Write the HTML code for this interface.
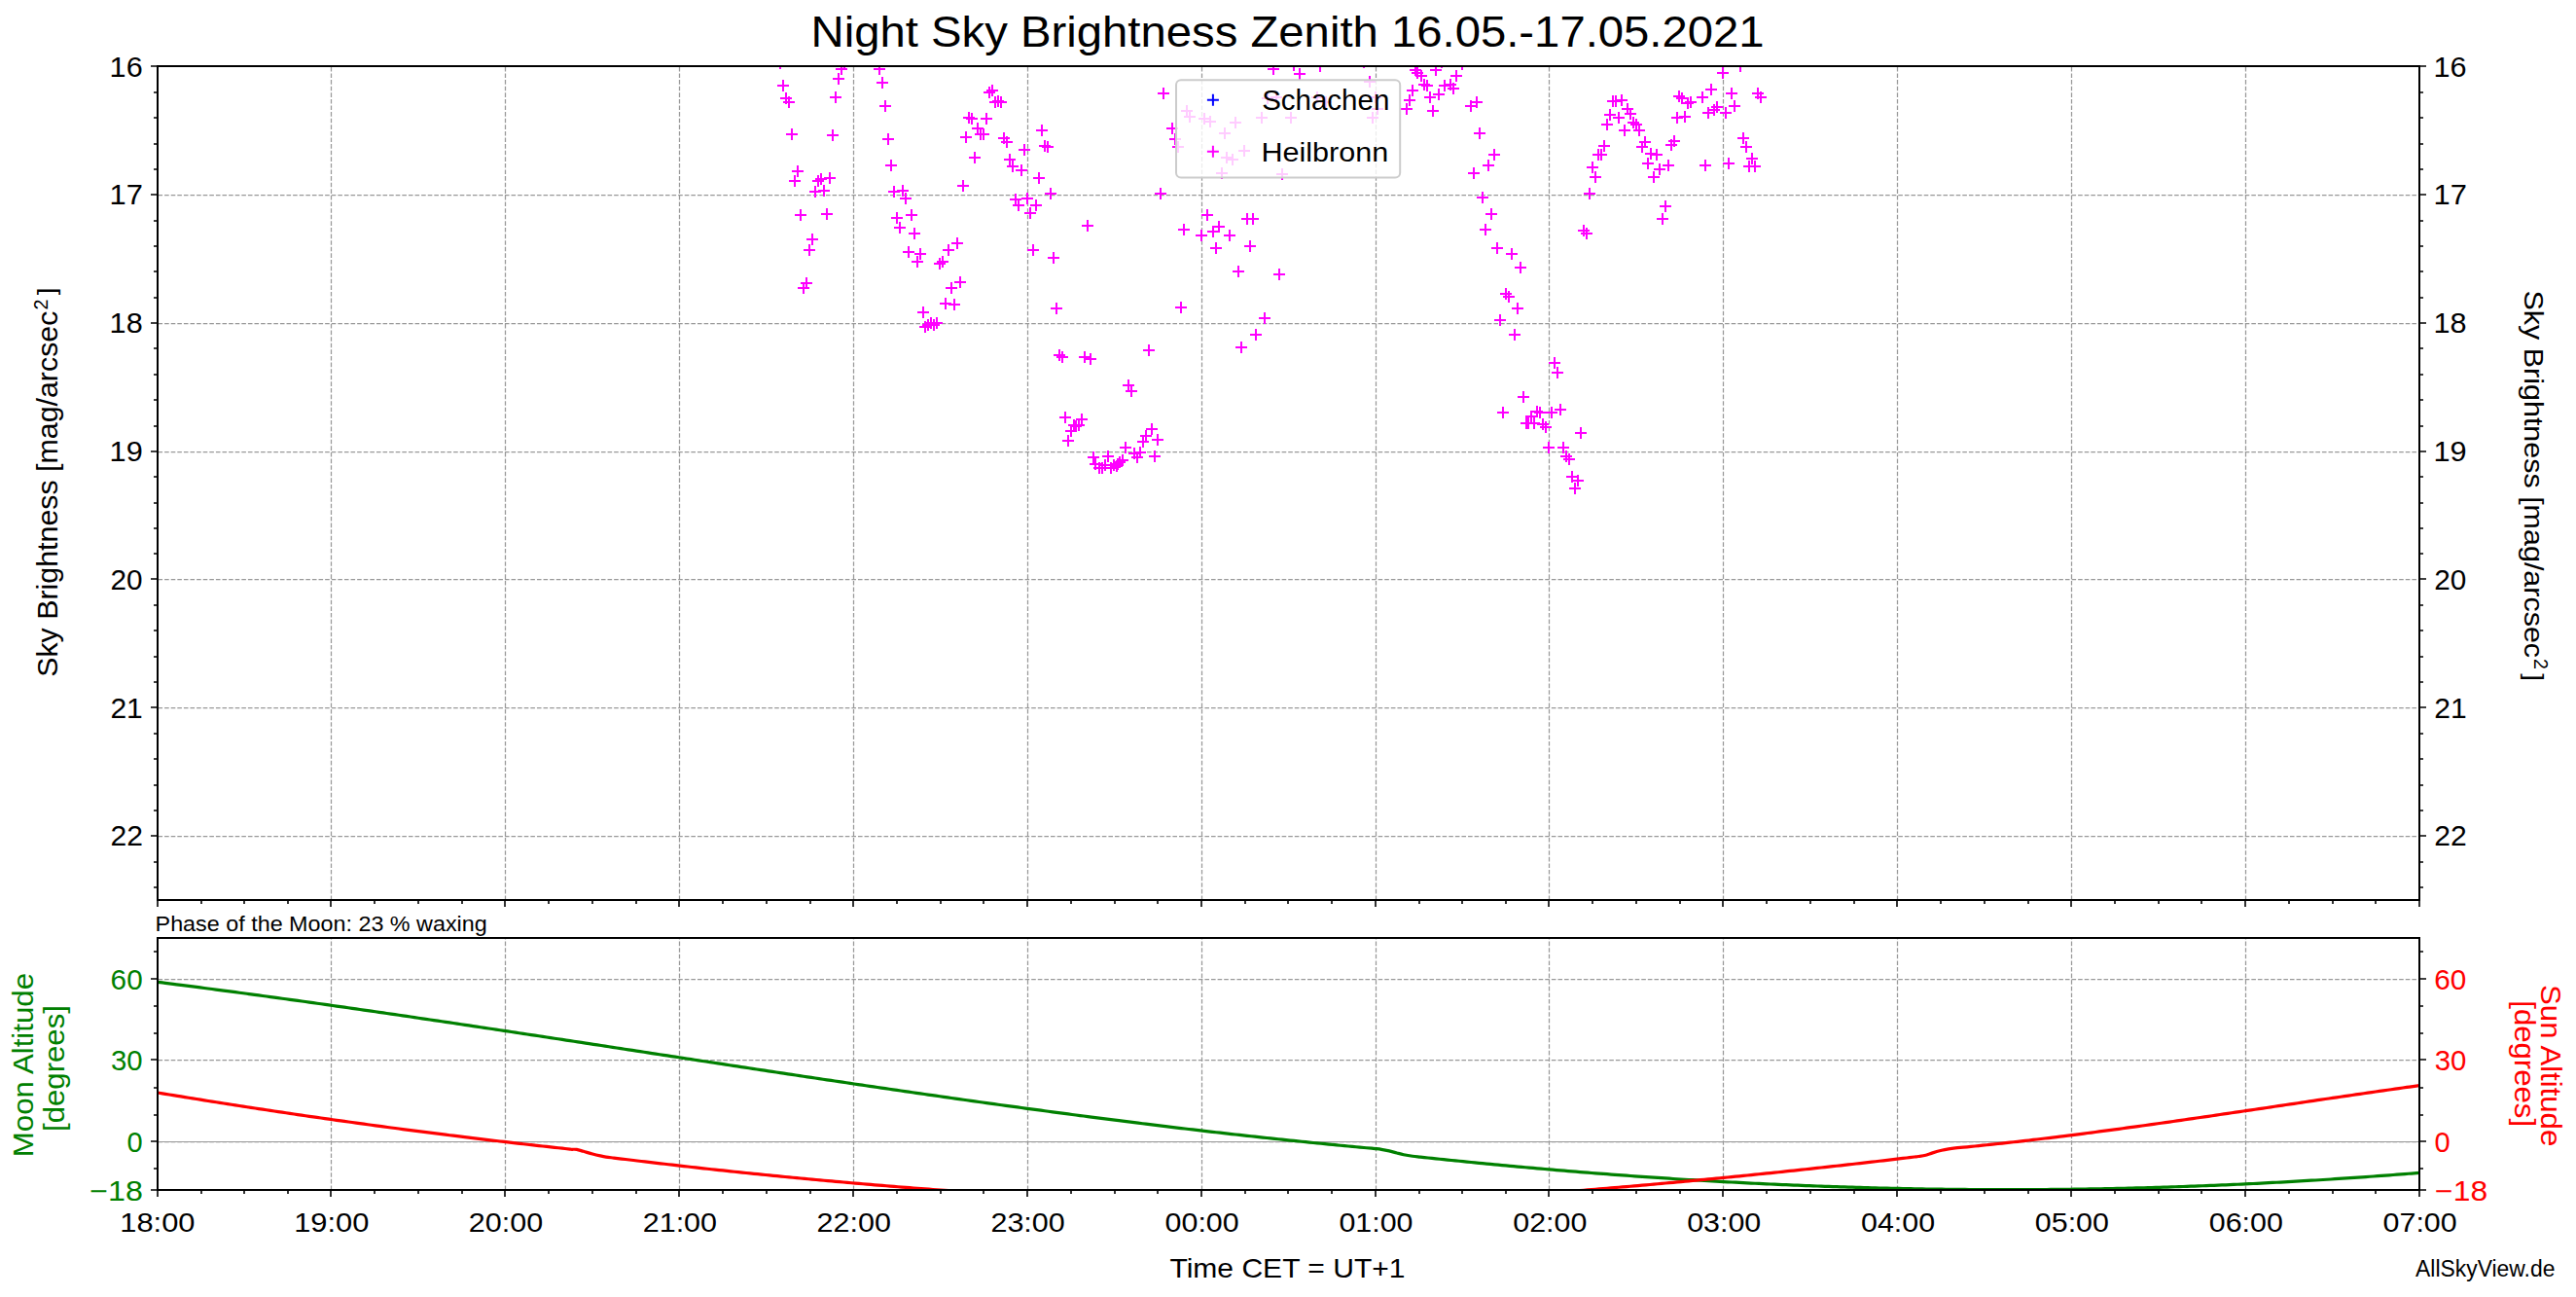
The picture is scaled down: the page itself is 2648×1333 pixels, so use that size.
<!DOCTYPE html>
<html><head><meta charset="utf-8"><title>Night Sky Brightness Zenith</title>
<style>html,body{margin:0;padding:0;background:#fff;}body{width:2648px;height:1333px;overflow:hidden;}svg{display:block;}</style>
</head><body>
<svg width="2648" height="1333" viewBox="0 0 2648 1333" font-family='"Liberation Sans", sans-serif'>
<rect width="2648" height="1333" fill="#fff"/>
<text x="833.60" y="48.00" font-size="44.78" textLength="980.07" lengthAdjust="spacingAndGlyphs" fill="#000">Night Sky Brightness Zenith 16.05.-17.05.2021</text>
<path d="M162.5 200.5H2487.0 M162.5 332.5H2487.0 M162.5 464.5H2487.0 M162.5 595.5H2487.0 M162.5 727.5H2487.0 M162.5 859.5H2487.0 M340.5 925.0V68.0 M519.5 925.0V68.0 M698.5 925.0V68.0 M877.5 925.0V68.0 M1056.5 925.0V68.0 M1235.5 925.0V68.0 M1414.5 925.0V68.0 M1592.5 925.0V68.0 M1771.5 925.0V68.0 M1950.5 925.0V68.0 M2129.5 925.0V68.0 M2308.5 925.0V68.0" stroke="#999999" stroke-width="1.25" stroke-dasharray="4.6 2.0007" fill="none"/>
<path d="M162.5 1006.5H2487.0 M162.5 1089.5H2487.0 M162.5 1173.5H2487.0 M340.5 1223.0V964.0 M519.5 1223.0V964.0 M698.5 1223.0V964.0 M877.5 1223.0V964.0 M1056.5 1223.0V964.0 M1235.5 1223.0V964.0 M1414.5 1223.0V964.0 M1592.5 1223.0V964.0 M1771.5 1223.0V964.0 M1950.5 1223.0V964.0 M2129.5 1223.0V964.0 M2308.5 1223.0V964.0" stroke="#999999" stroke-width="1.25" stroke-dasharray="4.6 2.0007" fill="none"/>
<path d="M162.0 1173.5H2487.0" stroke="#9a9a9a" stroke-width="1.1" fill="none"/>
<svg x="162.0" y="68.0" width="2325.0" height="857.0" viewBox="162.0 68.0 2325.0 857.0" overflow="hidden">
<path d="M796.00 65.00h12M802.00 59.00v12M859.00 71.00h12M865.00 65.00v12M862.00 66.00h12M868.00 60.00v12M856.00 81.00h12M862.00 75.00v12M799.00 88.00h12M805.00 82.00v12M802.00 101.00h12M808.00 95.00v12M805.00 105.00h12M811.00 99.00v12M853.00 100.00h12M859.00 94.00v12M808.00 138.00h12M814.00 132.00v12M850.00 139.00h12M856.00 133.00v12M814.00 176.00h12M820.00 170.00v12M811.00 186.00h12M817.00 180.00v12M835.00 186.00h12M841.00 180.00v12M838.00 184.00h12M844.00 178.00v12M847.00 183.00h12M853.00 177.00v12M832.00 197.00h12M838.00 191.00v12M841.00 196.00h12M847.00 190.00v12M898.00 71.00h12M904.00 65.00v12M901.00 85.00h12M907.00 79.00v12M904.00 109.00h12M910.00 103.00v12M907.00 143.00h12M913.00 137.00v12M910.00 170.00h12M916.00 164.00v12M913.00 197.00h12M919.00 191.00v12M922.00 196.00h12M928.00 190.00v12M1011.00 95.00h12M1017.00 89.00v12M1014.00 93.00h12M1020.00 87.00v12M1017.00 105.00h12M1023.00 99.00v12M1020.00 104.00h12M1026.00 98.00v12M1023.00 105.00h12M1029.00 99.00v12M990.00 121.00h12M996.00 115.00v12M993.00 122.00h12M999.00 116.00v12M1008.00 122.00h12M1014.00 116.00v12M999.00 132.00h12M1005.00 126.00v12M1002.00 138.00h12M1008.00 132.00v12M1005.00 138.00h12M1011.00 132.00v12M987.00 141.00h12M993.00 135.00v12M1026.00 142.00h12M1032.00 136.00v12M1029.00 146.00h12M1035.00 140.00v12M1047.00 154.00h12M1053.00 148.00v12M996.00 162.00h12M1002.00 156.00v12M1032.00 164.00h12M1038.00 158.00v12M1035.00 171.00h12M1041.00 165.00v12M1044.00 175.00h12M1050.00 169.00v12M984.00 191.00h12M990.00 185.00v12M1065.00 134.00h12M1071.00 128.00v12M1068.00 150.00h12M1074.00 144.00v12M1071.00 151.00h12M1077.00 145.00v12M1062.00 183.00h12M1068.00 177.00v12M1074.00 199.00h12M1080.00 193.00v12M1187.00 199.00h12M1193.00 193.00v12M1190.00 96.00h12M1196.00 90.00v12M1303.00 71.00h12M1309.00 65.00v12M1449.00 72.00h12M1455.00 66.00v12M1451.00 75.00h12M1457.00 69.00v12M1455.00 78.00h12M1461.00 72.00v12M1470.00 72.00h12M1476.00 66.00v12M1491.00 78.00h12M1497.00 72.00v12M1497.00 66.00h12M1503.00 60.00v12M1458.00 87.00h12M1464.00 81.00v12M1461.00 88.00h12M1467.00 82.00v12M1446.00 93.00h12M1452.00 87.00v12M1479.00 88.00h12M1485.00 82.00v12M1485.00 87.00h12M1491.00 81.00v12M1488.00 91.00h12M1494.00 85.00v12M1473.00 97.00h12M1479.00 91.00v12M1464.00 100.00h12M1470.00 94.00v12M1443.00 103.00h12M1449.00 97.00v12M1440.00 112.00h12M1446.00 106.00v12M1467.00 114.00h12M1473.00 108.00v12M1506.00 109.00h12M1512.00 103.00v12M1512.00 105.00h12M1518.00 99.00v12M1515.00 137.00h12M1521.00 131.00v12M1530.00 159.00h12M1536.00 153.00v12M1524.00 170.00h12M1530.00 164.00v12M1509.00 178.00h12M1515.00 172.00v12M1628.00 199.00h12M1634.00 193.00v12M1652.00 104.00h12M1658.00 98.00v12M1655.00 104.00h12M1661.00 98.00v12M1661.00 103.00h12M1667.00 97.00v12M1667.00 112.00h12M1673.00 106.00v12M1670.00 117.00h12M1676.00 111.00v12M1649.00 118.00h12M1655.00 112.00v12M1658.00 121.00h12M1664.00 115.00v12M1646.00 128.00h12M1652.00 122.00v12M1673.00 126.00h12M1679.00 120.00v12M1676.00 128.00h12M1682.00 122.00v12M1664.00 134.00h12M1670.00 128.00v12M1679.00 134.00h12M1685.00 128.00v12M1643.00 150.00h12M1649.00 144.00v12M1685.00 146.00h12M1691.00 140.00v12M1682.00 151.00h12M1688.00 145.00v12M1637.00 159.00h12M1643.00 153.00v12M1640.00 159.00h12M1646.00 153.00v12M1691.00 158.00h12M1697.00 152.00v12M1697.00 159.00h12M1703.00 153.00v12M1631.00 172.00h12M1637.00 166.00v12M1688.00 168.00h12M1694.00 162.00v12M1709.00 170.00h12M1715.00 164.00v12M1700.00 174.00h12M1706.00 168.00v12M1634.00 182.00h12M1640.00 176.00v12M1694.00 182.00h12M1700.00 176.00v12M1715.00 145.00h12M1721.00 139.00v12M1712.00 149.00h12M1718.00 143.00v12M1765.00 75.00h12M1771.00 69.00v12M1783.00 68.00h12M1789.00 62.00v12M1753.00 92.00h12M1759.00 86.00v12M1744.00 100.00h12M1750.00 94.00v12M1720.00 99.00h12M1726.00 93.00v12M1723.00 101.00h12M1729.00 95.00v12M1729.00 106.00h12M1735.00 100.00v12M1732.00 105.00h12M1738.00 99.00v12M1718.00 121.00h12M1724.00 115.00v12M1726.00 120.00h12M1732.00 114.00v12M1750.00 116.00h12M1756.00 110.00v12M1756.00 113.00h12M1762.00 107.00v12M1759.00 110.00h12M1765.00 104.00v12M1768.00 116.00h12M1774.00 110.00v12M1774.00 96.00h12M1780.00 90.00v12M1777.00 109.00h12M1783.00 103.00v12M1801.00 96.00h12M1807.00 90.00v12M1804.00 100.00h12M1810.00 94.00v12M1786.00 142.00h12M1792.00 136.00v12M1789.00 151.00h12M1795.00 145.00v12M1795.00 163.00h12M1801.00 157.00v12M1792.00 171.00h12M1798.00 165.00v12M1798.00 171.00h12M1804.00 165.00v12M1771.00 168.00h12M1777.00 162.00v12M1747.00 170.00h12M1753.00 164.00v12M925.00 204.00h12M931.00 198.00v12M1038.00 205.00h12M1044.00 199.00v12M1041.00 211.00h12M1047.00 205.00v12M1050.00 204.00h12M1056.00 198.00v12M1059.00 211.00h12M1065.00 205.00v12M1053.00 219.00h12M1059.00 213.00v12M817.00 221.00h12M823.00 215.00v12M844.00 220.00h12M850.00 214.00v12M916.00 224.00h12M922.00 218.00v12M931.00 221.00h12M937.00 215.00v12M919.00 234.00h12M925.00 228.00v12M934.00 240.00h12M940.00 234.00v12M829.00 246.00h12M835.00 240.00v12M826.00 257.00h12M832.00 251.00v12M928.00 259.00h12M934.00 253.00v12M940.00 261.00h12M946.00 255.00v12M937.00 269.00h12M943.00 263.00v12M969.00 257.00h12M975.00 251.00v12M978.00 250.00h12M984.00 244.00v12M960.00 271.00h12M966.00 265.00v12M963.00 269.00h12M969.00 263.00v12M1056.00 257.00h12M1062.00 251.00v12M823.00 291.00h12M829.00 285.00v12M820.00 296.00h12M826.00 290.00v12M981.00 290.00h12M987.00 284.00v12M972.00 296.00h12M978.00 290.00v12M966.00 312.00h12M972.00 306.00v12M975.00 313.00h12M981.00 307.00v12M943.00 321.00h12M949.00 315.00v12M1112.00 232.00h12M1118.00 226.00v12M1077.00 265.00h12M1083.00 259.00v12M1080.00 317.00h12M1086.00 311.00v12M1211.00 236.00h12M1217.00 230.00v12M1229.00 242.00h12M1235.00 236.00v12M1235.00 221.00h12M1241.00 215.00v12M1241.00 238.00h12M1247.00 232.00v12M1247.00 233.00h12M1253.00 227.00v12M1258.00 242.00h12M1264.00 236.00v12M1276.00 225.00h12M1282.00 219.00v12M1282.00 225.00h12M1288.00 219.00v12M1244.00 255.00h12M1250.00 249.00v12M1279.00 253.00h12M1285.00 247.00v12M1267.00 279.00h12M1273.00 273.00v12M1309.00 282.00h12M1315.00 276.00v12M1208.00 316.00h12M1214.00 310.00v12M1294.00 327.00h12M1300.00 321.00v12M1518.00 203.00h12M1524.00 197.00v12M1527.00 220.00h12M1533.00 214.00v12M1521.00 236.00h12M1527.00 230.00v12M1533.00 255.00h12M1539.00 249.00v12M1548.00 261.00h12M1554.00 255.00v12M1557.00 275.00h12M1563.00 269.00v12M1542.00 302.00h12M1548.00 296.00v12M1545.00 305.00h12M1551.00 299.00v12M1554.00 317.00h12M1560.00 311.00v12M1536.00 329.00h12M1542.00 323.00v12M1706.00 212.00h12M1712.00 206.00v12M1703.00 225.00h12M1709.00 219.00v12M1622.00 237.00h12M1628.00 231.00v12M1625.00 240.00h12M1631.00 234.00v12M1083.00 365.00h12M1089.00 359.00v12M1086.00 367.00h12M1092.00 361.00v12M1109.00 367.00h12M1115.00 361.00v12M1115.00 369.00h12M1121.00 363.00v12M1154.00 396.00h12M1160.00 390.00v12M1157.00 402.00h12M1163.00 396.00v12M1089.00 429.00h12M1095.00 423.00v12M1106.00 431.00h12M1112.00 425.00v12M1098.00 437.00h12M1104.00 431.00v12M1103.00 437.00h12M1109.00 431.00v12M1100.00 438.00h12M1106.00 432.00v12M1095.00 443.00h12M1101.00 437.00v12M1092.00 453.00h12M1098.00 447.00v12M1151.00 460.00h12M1157.00 454.00v12M1175.00 360.00h12M1181.00 354.00v12M1285.00 344.00h12M1291.00 338.00v12M1270.00 357.00h12M1276.00 351.00v12M1178.00 441.00h12M1184.00 435.00v12M1172.00 448.00h12M1178.00 442.00v12M1169.00 454.00h12M1175.00 448.00v12M1184.00 452.00h12M1190.00 446.00v12M1551.00 344.00h12M1557.00 338.00v12M1592.00 373.00h12M1598.00 367.00v12M1595.00 383.00h12M1601.00 377.00v12M1560.00 408.00h12M1566.00 402.00v12M1539.00 424.00h12M1545.00 418.00v12M1619.00 445.00h12M1625.00 439.00v12M1586.00 460.00h12M1592.00 454.00v12M1601.00 460.00h12M1607.00 454.00v12M1118.00 470.00h12M1124.00 464.00v12M1120.00 477.00h12M1126.00 471.00v12M1124.00 481.00h12M1130.00 475.00v12M1127.00 481.00h12M1133.00 475.00v12M1130.00 478.00h12M1136.00 472.00v12M1133.00 469.00h12M1139.00 463.00v12M1136.00 481.00h12M1142.00 475.00v12M1139.00 478.00h12M1145.00 472.00v12M1142.00 479.00h12M1148.00 473.00v12M1145.00 475.00h12M1151.00 469.00v12M1148.00 473.00h12M1154.00 467.00v12M1143.00 477.00h12M1149.00 471.00v12M1160.00 466.00h12M1166.00 460.00v12M1163.00 470.00h12M1169.00 464.00v12M1166.00 465.00h12M1172.00 459.00v12M1181.00 469.00h12M1187.00 463.00v12M1199.00 132.00h12M1205.00 126.00v12M1202.00 143.00h12M1208.00 137.00v12M1205.00 151.00h12M1211.00 145.00v12M1214.00 114.00h12M1220.00 108.00v12M1217.00 120.00h12M1223.00 114.00v12M1232.00 122.00h12M1238.00 116.00v12M1238.00 125.00h12M1244.00 119.00v12M1264.00 126.00h12M1270.00 120.00v12M1253.00 137.00h12M1259.00 131.00v12M1291.00 121.00h12M1297.00 115.00v12M1321.00 121.00h12M1327.00 115.00v12M1273.00 155.00h12M1279.00 149.00v12M1255.00 162.00h12M1261.00 156.00v12M1261.00 164.00h12M1267.00 158.00v12M1250.00 178.00h12M1256.00 172.00v12M1312.00 179.00h12M1318.00 173.00v12M1297.00 101.00h12M1303.00 95.00v12M1306.00 100.00h12M1312.00 94.00v12M1348.00 100.00h12M1354.00 94.00v12M1357.00 105.00h12M1363.00 99.00v12M1402.00 84.00h12M1408.00 78.00v12M1408.00 100.00h12M1414.00 94.00v12M1410.00 112.00h12M1416.00 106.00v12M1405.00 121.00h12M1411.00 115.00v12M1330.00 76.00h12M1336.00 70.00v12M1324.00 67.00h12M1330.00 61.00v12M1351.00 68.00h12M1357.00 62.00v12M1396.00 64.00h12M1402.00 58.00v12M945.00 336.00h12M951.00 330.00v12M948.00 334.00h12M954.00 328.00v12M951.00 332.00h12M957.00 326.00v12M954.00 334.00h12M960.00 328.00v12M957.00 332.00h12M963.00 326.00v12M1574.00 423.00h12M1580.00 417.00v12M1577.00 424.00h12M1583.00 418.00v12M1589.00 424.00h12M1595.00 418.00v12M1598.00 421.00h12M1604.00 415.00v12M1568.00 428.00h12M1574.00 422.00v12M1563.00 435.00h12M1569.00 429.00v12M1565.00 435.00h12M1571.00 429.00v12M1571.00 435.00h12M1577.00 429.00v12M1580.00 436.00h12M1586.00 430.00v12M1583.00 439.00h12M1589.00 433.00v12M1604.00 469.00h12M1610.00 463.00v12M1607.00 472.00h12M1613.00 466.00v12M1610.00 490.00h12M1616.00 484.00v12M1616.00 494.00h12M1622.00 488.00v12M1613.00 502.00h12M1619.00 496.00v12M1476.00 64.00h12M1482.00 58.00v12" stroke="#f0f" stroke-width="2" fill="none"/>
</svg>
<rect x="1209" y="82.2" width="230.2" height="100.2" rx="5" ry="5" fill="#fff" fill-opacity="0.8" stroke="#ccc" stroke-width="2"/>
<path d="M1240.9 102.8h12M1246.9 96.8v12" stroke="#00f" stroke-width="2"/>
<path d="M1240.9 155.7h12M1246.9 149.7v12" stroke="#f0f" stroke-width="2"/>
<text x="1297.17" y="112.90" font-size="28.99" textLength="131.15" lengthAdjust="spacingAndGlyphs" fill="#000">Schachen</text>
<text x="1296.48" y="165.80" font-size="28.26" textLength="130.82" lengthAdjust="spacingAndGlyphs" fill="#000">Heilbronn</text>
<svg x="162.0" y="964.0" width="2325.0" height="259.0" viewBox="162.0 964.0 2325.0 259.0" overflow="hidden">
<g fill="none" stroke-width="3.2" stroke-linejoin="round">
<path d="M162.00 1009.32C163.33 1009.49 167.33 1009.99 170.00 1010.33C172.67 1010.67 175.33 1011.01 178.00 1011.35C180.67 1011.68 183.33 1012.02 186.00 1012.37C188.67 1012.71 191.33 1013.05 194.00 1013.39C196.67 1013.74 199.33 1014.08 202.00 1014.43C204.67 1014.77 207.33 1015.12 210.00 1015.47C212.67 1015.82 215.33 1016.16 218.00 1016.52C220.67 1016.87 223.33 1017.22 226.00 1017.57C228.67 1017.92 231.33 1018.27 234.00 1018.63C236.67 1018.98 239.33 1019.34 242.00 1019.69C244.67 1020.05 247.33 1020.41 250.00 1020.77C252.67 1021.12 255.33 1021.48 258.00 1021.84C260.67 1022.20 263.33 1022.56 266.00 1022.93C268.67 1023.29 271.33 1023.65 274.00 1024.01C276.67 1024.38 279.33 1024.74 282.00 1025.11C284.67 1025.47 287.33 1025.84 290.00 1026.21C292.67 1026.58 295.33 1026.94 298.00 1027.31C300.67 1027.68 303.33 1028.05 306.00 1028.42C308.67 1028.80 311.33 1029.17 314.00 1029.54C316.67 1029.91 319.33 1030.29 322.00 1030.66C324.67 1031.03 327.33 1031.41 330.00 1031.78C332.67 1032.16 335.33 1032.54 338.00 1032.91C340.67 1033.29 343.33 1033.67 346.00 1034.05C348.67 1034.43 351.33 1034.81 354.00 1035.19C356.67 1035.57 359.33 1035.95 362.00 1036.33C364.67 1036.71 367.33 1037.10 370.00 1037.48C372.67 1037.86 375.33 1038.25 378.00 1038.63C380.67 1039.01 383.33 1039.40 386.00 1039.79C388.67 1040.17 391.33 1040.56 394.00 1040.95C396.67 1041.33 399.33 1041.72 402.00 1042.11C404.67 1042.50 407.33 1042.89 410.00 1043.28C412.67 1043.67 415.33 1044.06 418.00 1044.45C420.67 1044.84 423.33 1045.23 426.00 1045.62C428.67 1046.01 431.33 1046.41 434.00 1046.80C436.67 1047.19 439.33 1047.58 442.00 1047.98C444.67 1048.37 447.33 1048.77 450.00 1049.16C452.67 1049.56 455.33 1049.95 458.00 1050.35C460.67 1050.75 463.33 1051.14 466.00 1051.54C468.67 1051.94 471.33 1052.33 474.00 1052.73C476.67 1053.13 479.33 1053.53 482.00 1053.93C484.67 1054.33 487.33 1054.73 490.00 1055.12C492.67 1055.52 495.33 1055.92 498.00 1056.32C500.67 1056.73 503.33 1057.13 506.00 1057.53C508.67 1057.93 511.33 1058.33 514.00 1058.73C516.67 1059.13 519.33 1059.54 522.00 1059.94C524.67 1060.34 527.33 1060.74 530.00 1061.15C532.67 1061.55 535.33 1061.95 538.00 1062.36C540.67 1062.76 543.33 1063.17 546.00 1063.57C548.67 1063.97 551.33 1064.38 554.00 1064.78C556.67 1065.19 559.33 1065.59 562.00 1066.00C564.67 1066.41 567.33 1066.81 570.00 1067.22C572.67 1067.62 575.33 1068.03 578.00 1068.44C580.67 1068.84 583.33 1069.25 586.00 1069.65C588.67 1070.06 591.33 1070.47 594.00 1070.88C596.67 1071.28 599.33 1071.69 602.00 1072.10C604.67 1072.50 607.33 1072.91 610.00 1073.32C612.67 1073.73 615.33 1074.13 618.00 1074.54C620.67 1074.95 623.33 1075.36 626.00 1075.77C628.67 1076.17 631.33 1076.58 634.00 1076.99C636.67 1077.40 639.33 1077.81 642.00 1078.21C644.67 1078.62 647.33 1079.03 650.00 1079.44C652.67 1079.85 655.33 1080.26 658.00 1080.66C660.67 1081.07 663.33 1081.48 666.00 1081.89C668.67 1082.30 671.33 1082.71 674.00 1083.11C676.67 1083.52 679.33 1083.93 682.00 1084.34C684.67 1084.75 687.33 1085.15 690.00 1085.56C692.67 1085.97 695.33 1086.38 698.00 1086.79C700.67 1087.19 703.33 1087.60 706.00 1088.01C708.67 1088.42 711.33 1088.83 714.00 1089.23C716.67 1089.64 719.33 1090.05 722.00 1090.46C724.67 1090.86 727.33 1091.27 730.00 1091.68C732.67 1092.08 735.33 1092.49 738.00 1092.90C740.67 1093.30 743.33 1093.71 746.00 1094.12C748.67 1094.52 751.33 1094.93 754.00 1095.33C756.67 1095.74 759.33 1096.14 762.00 1096.55C764.67 1096.96 767.33 1097.36 770.00 1097.77C772.67 1098.17 775.33 1098.57 778.00 1098.98C780.67 1099.38 783.33 1099.79 786.00 1100.19C788.67 1100.59 791.33 1101.00 794.00 1101.40C796.67 1101.80 799.33 1102.21 802.00 1102.61C804.67 1103.01 807.33 1103.41 810.00 1103.82C812.67 1104.22 815.33 1104.62 818.00 1105.02C820.67 1105.42 823.33 1105.82 826.00 1106.22C828.67 1106.62 831.33 1107.02 834.00 1107.42C836.67 1107.82 839.33 1108.22 842.00 1108.62C844.67 1109.02 847.33 1109.41 850.00 1109.81C852.67 1110.21 855.33 1110.61 858.00 1111.00C860.67 1111.40 863.33 1111.80 866.00 1112.19C868.67 1112.59 871.33 1112.98 874.00 1113.38C876.67 1113.77 879.33 1114.17 882.00 1114.56C884.67 1114.96 887.33 1115.35 890.00 1115.74C892.67 1116.13 895.33 1116.53 898.00 1116.92C900.67 1117.31 903.33 1117.70 906.00 1118.09C908.67 1118.48 911.33 1118.87 914.00 1119.26C916.67 1119.65 919.33 1120.04 922.00 1120.43C924.67 1120.82 927.33 1121.20 930.00 1121.59C932.67 1121.98 935.33 1122.36 938.00 1122.75C940.67 1123.13 943.33 1123.52 946.00 1123.90C948.67 1124.29 951.33 1124.67 954.00 1125.05C956.67 1125.44 959.33 1125.82 962.00 1126.20C964.67 1126.58 967.33 1126.96 970.00 1127.34C972.67 1127.72 975.33 1128.10 978.00 1128.48C980.67 1128.86 983.33 1129.24 986.00 1129.61C988.67 1129.99 991.33 1130.37 994.00 1130.74C996.67 1131.12 999.33 1131.49 1002.00 1131.86C1004.67 1132.24 1007.33 1132.61 1010.00 1132.98C1012.67 1133.36 1015.33 1133.73 1018.00 1134.10C1020.67 1134.47 1023.33 1134.84 1026.00 1135.21C1028.67 1135.57 1031.33 1135.94 1034.00 1136.31C1036.67 1136.68 1039.33 1137.04 1042.00 1137.41C1044.67 1137.77 1047.33 1138.14 1050.00 1138.50C1052.67 1138.86 1055.33 1139.23 1058.00 1139.59C1060.67 1139.95 1063.33 1140.31 1066.00 1140.67C1068.67 1141.03 1071.33 1141.39 1074.00 1141.75C1076.67 1142.10 1079.33 1142.46 1082.00 1142.82C1084.67 1143.17 1087.33 1143.53 1090.00 1143.88C1092.67 1144.23 1095.33 1144.59 1098.00 1144.94C1100.67 1145.29 1103.33 1145.64 1106.00 1145.99C1108.67 1146.34 1111.33 1146.69 1114.00 1147.03C1116.67 1147.38 1119.33 1147.73 1122.00 1148.07C1124.67 1148.42 1127.33 1148.76 1130.00 1149.11C1132.67 1149.45 1135.33 1149.79 1138.00 1150.13C1140.67 1150.47 1143.33 1150.81 1146.00 1151.15C1148.67 1151.49 1151.33 1151.83 1154.00 1152.16C1156.67 1152.50 1159.33 1152.83 1162.00 1153.17C1164.67 1153.50 1167.33 1153.83 1170.00 1154.16C1172.67 1154.50 1175.33 1154.83 1178.00 1155.15C1180.67 1155.48 1183.33 1155.81 1186.00 1156.14C1188.67 1156.46 1191.33 1156.79 1194.00 1157.11C1196.67 1157.44 1199.33 1157.76 1202.00 1158.08C1204.67 1158.40 1207.33 1158.72 1210.00 1159.04C1212.67 1159.36 1215.33 1159.68 1218.00 1159.99C1220.67 1160.31 1223.33 1160.62 1226.00 1160.94C1228.67 1161.25 1231.33 1161.56 1234.00 1161.87C1236.67 1162.18 1239.33 1162.49 1242.00 1162.80C1244.67 1163.11 1247.33 1163.42 1250.00 1163.72C1252.67 1164.03 1255.33 1164.33 1258.00 1164.63C1260.67 1164.94 1263.33 1165.24 1266.00 1165.54C1268.67 1165.84 1271.33 1166.13 1274.00 1166.43C1276.67 1166.73 1279.33 1167.02 1282.00 1167.32C1284.67 1167.61 1287.33 1167.90 1290.00 1168.19C1292.67 1168.48 1295.33 1168.77 1298.00 1169.06C1300.67 1169.35 1303.33 1169.64 1306.00 1169.92C1308.67 1170.21 1311.33 1170.49 1314.00 1170.77C1316.67 1171.05 1319.33 1171.33 1322.00 1171.61C1324.67 1171.89 1327.33 1172.17 1330.00 1172.44C1332.67 1172.72 1335.33 1172.99 1338.00 1173.26C1340.67 1173.53 1343.33 1173.81 1346.00 1174.07C1348.67 1174.34 1351.33 1174.61 1354.00 1174.88C1356.67 1175.14 1359.33 1175.41 1362.00 1175.67C1364.67 1175.93 1367.33 1176.19 1370.00 1176.45C1372.67 1176.71 1375.33 1176.97 1378.00 1177.22C1380.67 1177.48 1383.33 1177.73 1386.00 1177.98C1388.67 1178.24 1391.33 1178.49 1394.00 1178.74C1396.67 1178.98 1399.33 1179.23 1402.00 1179.48C1404.67 1179.72 1408.00 1180.02 1410.00 1180.21C1412.00 1180.39 1412.33 1180.39 1414.00 1180.57C1415.67 1180.75 1417.67 1180.91 1420.00 1181.30C1422.33 1181.69 1425.35 1182.28 1428.00 1182.90C1430.65 1183.52 1433.42 1184.37 1435.90 1185.00C1438.38 1185.63 1440.22 1186.15 1442.90 1186.70C1445.58 1187.25 1449.15 1187.87 1452.00 1188.28C1454.85 1188.68 1457.33 1188.85 1460.00 1189.13C1462.67 1189.42 1465.33 1189.70 1468.00 1189.98C1470.67 1190.26 1473.33 1190.54 1476.00 1190.82C1478.67 1191.10 1481.33 1191.37 1484.00 1191.65C1486.67 1191.92 1489.33 1192.20 1492.00 1192.47C1494.67 1192.74 1497.33 1193.01 1500.00 1193.28C1502.67 1193.54 1505.33 1193.81 1508.00 1194.07C1510.67 1194.34 1513.33 1194.60 1516.00 1194.86C1518.67 1195.13 1521.33 1195.39 1524.00 1195.64C1526.67 1195.90 1529.33 1196.16 1532.00 1196.41C1534.67 1196.67 1537.33 1196.92 1540.00 1197.17C1542.67 1197.42 1545.33 1197.67 1548.00 1197.92C1550.67 1198.17 1553.33 1198.42 1556.00 1198.66C1558.67 1198.91 1561.33 1199.15 1564.00 1199.39C1566.67 1199.63 1569.33 1199.87 1572.00 1200.11C1574.67 1200.35 1577.33 1200.58 1580.00 1200.82C1582.67 1201.05 1585.33 1201.28 1588.00 1201.51C1590.67 1201.74 1593.33 1201.97 1596.00 1202.20C1598.67 1202.43 1601.33 1202.65 1604.00 1202.88C1606.67 1203.10 1609.33 1203.32 1612.00 1203.54C1614.67 1203.76 1617.33 1203.98 1620.00 1204.20C1622.67 1204.42 1625.33 1204.63 1628.00 1204.84C1630.67 1205.06 1633.33 1205.27 1636.00 1205.48C1638.67 1205.69 1641.33 1205.90 1644.00 1206.10C1646.67 1206.31 1649.33 1206.51 1652.00 1206.71C1654.67 1206.92 1657.33 1207.12 1660.00 1207.31C1662.67 1207.51 1665.33 1207.71 1668.00 1207.91C1670.67 1208.10 1673.33 1208.29 1676.00 1208.48C1678.67 1208.68 1681.33 1208.87 1684.00 1209.05C1686.67 1209.24 1689.33 1209.43 1692.00 1209.61C1694.67 1209.79 1697.33 1209.98 1700.00 1210.16C1702.67 1210.34 1705.33 1210.52 1708.00 1210.69C1710.67 1210.87 1713.33 1211.04 1716.00 1211.22C1718.67 1211.39 1721.33 1211.56 1724.00 1211.73C1726.67 1211.90 1729.33 1212.06 1732.00 1212.23C1734.67 1212.39 1737.33 1212.56 1740.00 1212.72C1742.67 1212.88 1745.33 1213.04 1748.00 1213.20C1750.67 1213.36 1753.33 1213.51 1756.00 1213.67C1758.67 1213.82 1761.33 1213.97 1764.00 1214.12C1766.67 1214.27 1769.33 1214.42 1772.00 1214.57C1774.67 1214.71 1777.33 1214.86 1780.00 1215.00C1782.67 1215.14 1785.33 1215.28 1788.00 1215.42C1790.67 1215.56 1793.33 1215.69 1796.00 1215.83C1798.67 1215.96 1801.33 1216.10 1804.00 1216.23C1806.67 1216.36 1809.33 1216.49 1812.00 1216.61C1814.67 1216.74 1817.33 1216.86 1820.00 1216.99C1822.67 1217.11 1825.33 1217.23 1828.00 1217.35C1830.67 1217.47 1833.33 1217.59 1836.00 1217.70C1838.67 1217.82 1841.33 1217.93 1844.00 1218.04C1846.67 1218.15 1849.33 1218.26 1852.00 1218.37C1854.67 1218.48 1857.33 1218.58 1860.00 1218.68C1862.67 1218.79 1865.33 1218.89 1868.00 1218.99C1870.67 1219.09 1873.33 1219.18 1876.00 1219.28C1878.67 1219.37 1881.33 1219.47 1884.00 1219.56C1886.67 1219.65 1889.33 1219.74 1892.00 1219.83C1894.67 1219.91 1897.33 1220.00 1900.00 1220.08C1902.67 1220.17 1905.33 1220.25 1908.00 1220.33C1910.67 1220.41 1913.33 1220.48 1916.00 1220.56C1918.67 1220.63 1921.33 1220.71 1924.00 1220.78C1926.67 1220.85 1929.33 1220.92 1932.00 1220.99C1934.67 1221.05 1937.33 1221.12 1940.00 1221.18C1942.67 1221.24 1945.33 1221.31 1948.00 1221.36C1950.67 1221.42 1953.33 1221.48 1956.00 1221.54C1958.67 1221.59 1961.33 1221.64 1964.00 1221.69C1966.67 1221.75 1969.33 1221.79 1972.00 1221.84C1974.67 1221.89 1977.33 1221.93 1980.00 1221.98C1982.67 1222.02 1985.33 1222.06 1988.00 1222.10C1990.67 1222.14 1993.33 1222.17 1996.00 1222.21C1998.67 1222.24 2001.33 1222.28 2004.00 1222.31C2006.67 1222.34 2009.33 1222.37 2012.00 1222.39C2014.67 1222.42 2017.33 1222.44 2020.00 1222.47C2022.67 1222.49 2025.33 1222.51 2028.00 1222.53C2030.67 1222.54 2033.33 1222.56 2036.00 1222.58C2038.67 1222.59 2041.33 1222.60 2044.00 1222.61C2046.67 1222.62 2049.33 1222.63 2052.00 1222.64C2054.67 1222.64 2057.33 1222.65 2060.00 1222.65C2062.67 1222.65 2065.33 1222.65 2068.00 1222.65C2070.67 1222.64 2073.33 1222.64 2076.00 1222.63C2078.67 1222.63 2081.33 1222.62 2084.00 1222.61C2086.67 1222.60 2089.33 1222.59 2092.00 1222.57C2094.67 1222.56 2097.33 1222.54 2100.00 1222.52C2102.67 1222.50 2105.33 1222.48 2108.00 1222.46C2110.67 1222.44 2113.33 1222.41 2116.00 1222.38C2118.67 1222.36 2121.33 1222.33 2124.00 1222.30C2126.67 1222.27 2129.33 1222.23 2132.00 1222.20C2134.67 1222.16 2137.33 1222.12 2140.00 1222.08C2142.67 1222.05 2145.33 1222.00 2148.00 1221.96C2150.67 1221.92 2153.33 1221.87 2156.00 1221.82C2158.67 1221.78 2161.33 1221.73 2164.00 1221.67C2166.67 1221.62 2169.33 1221.57 2172.00 1221.51C2174.67 1221.46 2177.33 1221.40 2180.00 1221.34C2182.67 1221.28 2185.33 1221.22 2188.00 1221.15C2190.67 1221.09 2193.33 1221.02 2196.00 1220.95C2198.67 1220.88 2201.33 1220.81 2204.00 1220.74C2206.67 1220.67 2209.33 1220.59 2212.00 1220.52C2214.67 1220.44 2217.33 1220.36 2220.00 1220.28C2222.67 1220.20 2225.33 1220.12 2228.00 1220.03C2230.67 1219.95 2233.33 1219.86 2236.00 1219.77C2238.67 1219.68 2241.33 1219.59 2244.00 1219.50C2246.67 1219.41 2249.33 1219.31 2252.00 1219.21C2254.67 1219.12 2257.33 1219.02 2260.00 1218.92C2262.67 1218.81 2265.33 1218.71 2268.00 1218.61C2270.67 1218.50 2273.33 1218.39 2276.00 1218.28C2278.67 1218.17 2281.33 1218.06 2284.00 1217.95C2286.67 1217.84 2289.33 1217.72 2292.00 1217.60C2294.67 1217.48 2297.33 1217.36 2300.00 1217.24C2302.67 1217.12 2305.33 1217.00 2308.00 1216.87C2310.67 1216.74 2313.33 1216.62 2316.00 1216.49C2318.67 1216.36 2321.33 1216.22 2324.00 1216.09C2326.67 1215.96 2329.33 1215.82 2332.00 1215.68C2334.67 1215.54 2337.33 1215.40 2340.00 1215.26C2342.67 1215.12 2345.33 1214.97 2348.00 1214.83C2350.67 1214.68 2353.33 1214.53 2356.00 1214.38C2358.67 1214.23 2361.33 1214.08 2364.00 1213.93C2366.67 1213.77 2369.33 1213.62 2372.00 1213.46C2374.67 1213.30 2377.33 1213.14 2380.00 1212.98C2382.67 1212.81 2385.33 1212.65 2388.00 1212.48C2390.67 1212.32 2393.33 1212.15 2396.00 1211.98C2398.67 1211.81 2401.33 1211.63 2404.00 1211.46C2406.67 1211.28 2409.33 1211.11 2412.00 1210.93C2414.67 1210.75 2417.33 1210.57 2420.00 1210.39C2422.67 1210.20 2425.33 1210.02 2428.00 1209.83C2430.67 1209.65 2433.33 1209.46 2436.00 1209.27C2438.67 1209.08 2441.33 1208.89 2444.00 1208.69C2446.67 1208.50 2449.33 1208.30 2452.00 1208.10C2454.67 1207.90 2457.33 1207.70 2460.00 1207.50C2462.67 1207.30 2465.33 1207.09 2468.00 1206.89C2470.67 1206.68 2473.33 1206.47 2476.00 1206.26C2478.67 1206.05 2482.17 1205.77 2484.00 1205.63C2485.83 1205.48 2486.50 1205.42 2487.00 1205.38" stroke="#008000"/>
<path d="M162.00 1122.98C163.33 1123.20 167.33 1123.87 170.00 1124.31C172.67 1124.75 175.33 1125.19 178.00 1125.63C180.67 1126.07 183.33 1126.51 186.00 1126.94C188.67 1127.38 191.33 1127.81 194.00 1128.25C196.67 1128.68 199.33 1129.11 202.00 1129.54C204.67 1129.97 207.33 1130.40 210.00 1130.83C212.67 1131.25 215.33 1131.68 218.00 1132.10C220.67 1132.53 223.33 1132.95 226.00 1133.37C228.67 1133.79 231.33 1134.21 234.00 1134.63C236.67 1135.05 239.33 1135.46 242.00 1135.88C244.67 1136.29 247.33 1136.71 250.00 1137.12C252.67 1137.53 255.33 1137.94 258.00 1138.35C260.67 1138.76 263.33 1139.17 266.00 1139.57C268.67 1139.98 271.33 1140.38 274.00 1140.79C276.67 1141.19 279.33 1141.59 282.00 1141.99C284.67 1142.39 287.33 1142.79 290.00 1143.19C292.67 1143.58 295.33 1143.98 298.00 1144.37C300.67 1144.77 303.33 1145.16 306.00 1145.55C308.67 1145.94 311.33 1146.33 314.00 1146.72C316.67 1147.11 319.33 1147.49 322.00 1147.88C324.67 1148.26 327.33 1148.64 330.00 1149.03C332.67 1149.41 335.33 1149.79 338.00 1150.17C340.67 1150.55 343.33 1150.92 346.00 1151.30C348.67 1151.68 351.33 1152.05 354.00 1152.42C356.67 1152.80 359.33 1153.17 362.00 1153.54C364.67 1153.91 367.33 1154.28 370.00 1154.64C372.67 1155.01 375.33 1155.37 378.00 1155.74C380.67 1156.10 383.33 1156.46 386.00 1156.83C388.67 1157.19 391.33 1157.55 394.00 1157.90C396.67 1158.26 399.33 1158.62 402.00 1158.97C404.67 1159.33 407.33 1159.68 410.00 1160.03C412.67 1160.38 415.33 1160.73 418.00 1161.08C420.67 1161.43 423.33 1161.78 426.00 1162.13C428.67 1162.47 431.33 1162.82 434.00 1163.16C436.67 1163.50 439.33 1163.84 442.00 1164.18C444.67 1164.52 447.33 1164.86 450.00 1165.20C452.67 1165.53 455.33 1165.87 458.00 1166.20C460.67 1166.54 463.33 1166.87 466.00 1167.20C468.67 1167.53 471.33 1167.86 474.00 1168.19C476.67 1168.51 479.33 1168.84 482.00 1169.17C484.67 1169.49 487.33 1169.81 490.00 1170.14C492.67 1170.46 495.33 1170.78 498.00 1171.10C500.67 1171.42 503.33 1171.73 506.00 1172.05C508.67 1172.36 511.33 1172.68 514.00 1172.99C516.67 1173.30 519.33 1173.61 522.00 1173.92C524.67 1174.23 527.33 1174.54 530.00 1174.85C532.67 1175.16 535.33 1175.46 538.00 1175.76C540.67 1176.07 543.33 1176.37 546.00 1176.67C548.67 1176.97 551.33 1177.27 554.00 1177.57C556.67 1177.87 559.33 1178.16 562.00 1178.46C564.67 1178.75 567.33 1179.05 570.00 1179.34C572.67 1179.63 575.33 1179.92 578.00 1180.21C580.67 1180.50 584.33 1180.89 586.00 1181.07C587.67 1181.25 586.87 1181.23 588.00 1181.28C589.13 1181.34 590.84 1181.06 592.80 1181.40C594.76 1181.74 597.03 1182.53 599.75 1183.30C602.47 1184.07 606.23 1185.23 609.10 1186.00C611.98 1186.77 614.68 1187.39 617.00 1187.90C619.32 1188.41 620.67 1188.71 623.00 1189.07C625.33 1189.43 628.33 1189.73 631.00 1190.06C633.67 1190.39 636.33 1190.72 639.00 1191.05C641.67 1191.37 644.33 1191.70 647.00 1192.02C649.67 1192.35 652.33 1192.67 655.00 1192.99C657.67 1193.31 660.33 1193.63 663.00 1193.94C665.67 1194.26 668.33 1194.57 671.00 1194.89C673.67 1195.20 676.33 1195.51 679.00 1195.82C681.67 1196.13 684.33 1196.44 687.00 1196.75C689.67 1197.06 692.33 1197.36 695.00 1197.67C697.67 1197.97 700.33 1198.27 703.00 1198.57C705.67 1198.87 708.33 1199.17 711.00 1199.47C713.67 1199.77 716.33 1200.06 719.00 1200.36C721.67 1200.65 724.33 1200.94 727.00 1201.23C729.67 1201.53 732.33 1201.82 735.00 1202.10C737.67 1202.39 740.33 1202.68 743.00 1202.96C745.67 1203.25 748.33 1203.53 751.00 1203.81C753.67 1204.09 756.33 1204.37 759.00 1204.65C761.67 1204.93 764.33 1205.20 767.00 1205.48C769.67 1205.75 772.33 1206.03 775.00 1206.30C777.67 1206.57 780.33 1206.84 783.00 1207.11C785.67 1207.38 788.33 1207.64 791.00 1207.91C793.67 1208.17 796.33 1208.44 799.00 1208.70C801.67 1208.96 804.33 1209.22 807.00 1209.48C809.67 1209.74 812.33 1210.00 815.00 1210.25C817.67 1210.51 820.33 1210.76 823.00 1211.01C825.67 1211.27 828.33 1211.52 831.00 1211.77C833.67 1212.01 836.33 1212.26 839.00 1212.51C841.67 1212.75 844.33 1213.00 847.00 1213.24C849.67 1213.48 852.33 1213.72 855.00 1213.96C857.67 1214.20 860.33 1214.44 863.00 1214.68C865.67 1214.91 868.33 1215.15 871.00 1215.38C873.67 1215.61 876.33 1215.85 879.00 1216.08C881.67 1216.31 884.33 1216.53 887.00 1216.76C889.67 1216.99 892.33 1217.21 895.00 1217.43C897.67 1217.66 900.33 1217.88 903.00 1218.10C905.67 1218.32 908.33 1218.54 911.00 1218.76C913.67 1218.97 916.33 1219.19 919.00 1219.40C921.67 1219.61 924.33 1219.83 927.00 1220.04C929.67 1220.25 932.33 1220.46 935.00 1220.66C937.67 1220.87 940.33 1221.08 943.00 1221.28C945.67 1221.48 948.33 1221.69 951.00 1221.89C953.67 1222.09 956.33 1222.29 959.00 1222.49C961.67 1222.68 964.33 1222.88 967.00 1223.07C969.67 1223.27 972.33 1223.46 975.00 1223.65C977.67 1223.84 980.33 1224.03 983.00 1224.22C985.67 1224.41 988.33 1224.59 991.00 1224.78C993.67 1224.96 996.33 1225.15 999.00 1225.33C1001.67 1225.51 1005.17 1225.74 1007.00 1225.87C1008.83 1225.99 1009.50 1226.03 1010.00 1226.07" stroke="#f00"/>
<path d="M1560.00 1228.51C1561.33 1228.41 1565.33 1228.11 1568.00 1227.92C1570.67 1227.72 1573.33 1227.52 1576.00 1227.32C1578.67 1227.12 1581.33 1226.91 1584.00 1226.71C1586.67 1226.51 1589.33 1226.30 1592.00 1226.10C1594.67 1225.89 1597.33 1225.69 1600.00 1225.48C1602.67 1225.27 1605.33 1225.06 1608.00 1224.85C1610.67 1224.64 1613.33 1224.43 1616.00 1224.22C1618.67 1224.00 1621.33 1223.79 1624.00 1223.57C1626.67 1223.36 1629.33 1223.14 1632.00 1222.93C1634.67 1222.71 1637.33 1222.49 1640.00 1222.27C1642.67 1222.05 1645.33 1221.83 1648.00 1221.60C1650.67 1221.38 1653.33 1221.16 1656.00 1220.93C1658.67 1220.71 1661.33 1220.48 1664.00 1220.25C1666.67 1220.03 1669.33 1219.80 1672.00 1219.57C1674.67 1219.34 1677.33 1219.11 1680.00 1218.87C1682.67 1218.64 1685.33 1218.41 1688.00 1218.17C1690.67 1217.94 1693.33 1217.70 1696.00 1217.47C1698.67 1217.23 1701.33 1216.99 1704.00 1216.75C1706.67 1216.51 1709.33 1216.27 1712.00 1216.03C1714.67 1215.79 1717.33 1215.54 1720.00 1215.30C1722.67 1215.05 1725.33 1214.81 1728.00 1214.56C1730.67 1214.31 1733.33 1214.06 1736.00 1213.82C1738.67 1213.57 1741.33 1213.31 1744.00 1213.06C1746.67 1212.81 1749.33 1212.56 1752.00 1212.30C1754.67 1212.05 1757.33 1211.79 1760.00 1211.54C1762.67 1211.28 1765.33 1211.02 1768.00 1210.76C1770.67 1210.50 1773.33 1210.24 1776.00 1209.98C1778.67 1209.72 1781.33 1209.46 1784.00 1209.19C1786.67 1208.93 1789.33 1208.66 1792.00 1208.40C1794.67 1208.13 1797.33 1207.86 1800.00 1207.59C1802.67 1207.32 1805.33 1207.05 1808.00 1206.78C1810.67 1206.51 1813.33 1206.24 1816.00 1205.96C1818.67 1205.69 1821.33 1205.41 1824.00 1205.14C1826.67 1204.86 1829.33 1204.58 1832.00 1204.30C1834.67 1204.03 1837.33 1203.75 1840.00 1203.46C1842.67 1203.18 1845.33 1202.90 1848.00 1202.62C1850.67 1202.33 1853.33 1202.05 1856.00 1201.76C1858.67 1201.47 1861.33 1201.19 1864.00 1200.90C1866.67 1200.61 1869.33 1200.32 1872.00 1200.03C1874.67 1199.74 1877.33 1199.45 1880.00 1199.15C1882.67 1198.86 1885.33 1198.56 1888.00 1198.27C1890.67 1197.97 1893.33 1197.67 1896.00 1197.38C1898.67 1197.08 1901.33 1196.78 1904.00 1196.48C1906.67 1196.18 1909.33 1195.87 1912.00 1195.57C1914.67 1195.27 1917.33 1194.96 1920.00 1194.66C1922.67 1194.35 1925.33 1194.04 1928.00 1193.74C1930.67 1193.43 1933.33 1193.12 1936.00 1192.81C1938.67 1192.50 1941.33 1192.18 1944.00 1191.87C1946.67 1191.56 1949.33 1191.24 1952.00 1190.93C1954.67 1190.61 1957.33 1190.30 1960.00 1189.98C1962.67 1189.66 1966.00 1189.26 1968.00 1189.02C1970.00 1188.78 1970.07 1188.84 1972.00 1188.54C1973.93 1188.23 1977.17 1187.81 1979.60 1187.20C1982.03 1186.59 1983.88 1185.72 1986.60 1184.90C1989.32 1184.08 1993.17 1182.97 1995.90 1182.30C1998.63 1181.63 2000.65 1181.29 2003.00 1180.90C2005.35 1180.51 2007.50 1180.23 2010.00 1179.95C2012.50 1179.66 2015.33 1179.44 2018.00 1179.18C2020.67 1178.92 2023.33 1178.66 2026.00 1178.40C2028.67 1178.13 2031.33 1177.86 2034.00 1177.59C2036.67 1177.32 2039.33 1177.05 2042.00 1176.77C2044.67 1176.49 2047.33 1176.21 2050.00 1175.92C2052.67 1175.64 2055.33 1175.35 2058.00 1175.06C2060.67 1174.77 2063.33 1174.48 2066.00 1174.18C2068.67 1173.89 2071.33 1173.59 2074.00 1173.29C2076.67 1172.99 2079.33 1172.68 2082.00 1172.37C2084.67 1172.07 2087.33 1171.76 2090.00 1171.44C2092.67 1171.13 2095.33 1170.82 2098.00 1170.50C2100.67 1170.18 2103.33 1169.86 2106.00 1169.54C2108.67 1169.22 2111.33 1168.89 2114.00 1168.56C2116.67 1168.24 2119.33 1167.91 2122.00 1167.57C2124.67 1167.24 2127.33 1166.91 2130.00 1166.57C2132.67 1166.23 2135.33 1165.89 2138.00 1165.55C2140.67 1165.21 2143.33 1164.87 2146.00 1164.52C2148.67 1164.18 2151.33 1163.83 2154.00 1163.48C2156.67 1163.13 2159.33 1162.78 2162.00 1162.43C2164.67 1162.07 2167.33 1161.72 2170.00 1161.36C2172.67 1161.01 2175.33 1160.65 2178.00 1160.29C2180.67 1159.93 2183.33 1159.56 2186.00 1159.20C2188.67 1158.84 2191.33 1158.47 2194.00 1158.10C2196.67 1157.74 2199.33 1157.37 2202.00 1157.00C2204.67 1156.63 2207.33 1156.26 2210.00 1155.88C2212.67 1155.51 2215.33 1155.14 2218.00 1154.76C2220.67 1154.39 2223.33 1154.01 2226.00 1153.63C2228.67 1153.25 2231.33 1152.87 2234.00 1152.49C2236.67 1152.11 2239.33 1151.73 2242.00 1151.35C2244.67 1150.97 2247.33 1150.58 2250.00 1150.20C2252.67 1149.81 2255.33 1149.43 2258.00 1149.04C2260.67 1148.66 2263.33 1148.27 2266.00 1147.88C2268.67 1147.49 2271.33 1147.10 2274.00 1146.71C2276.67 1146.32 2279.33 1145.93 2282.00 1145.54C2284.67 1145.15 2287.33 1144.76 2290.00 1144.37C2292.67 1143.98 2295.33 1143.58 2298.00 1143.19C2300.67 1142.80 2303.33 1142.40 2306.00 1142.01C2308.67 1141.62 2311.33 1141.22 2314.00 1140.83C2316.67 1140.43 2319.33 1140.04 2322.00 1139.64C2324.67 1139.25 2327.33 1138.85 2330.00 1138.46C2332.67 1138.06 2335.33 1137.66 2338.00 1137.27C2340.67 1136.87 2343.33 1136.48 2346.00 1136.08C2348.67 1135.69 2351.33 1135.29 2354.00 1134.89C2356.67 1134.50 2359.33 1134.10 2362.00 1133.71C2364.67 1133.31 2367.33 1132.92 2370.00 1132.52C2372.67 1132.13 2375.33 1131.73 2378.00 1131.34C2380.67 1130.94 2383.33 1130.55 2386.00 1130.16C2388.67 1129.76 2391.33 1129.37 2394.00 1128.98C2396.67 1128.59 2399.33 1128.19 2402.00 1127.80C2404.67 1127.41 2407.33 1127.02 2410.00 1126.63C2412.67 1126.24 2415.33 1125.85 2418.00 1125.46C2420.67 1125.08 2423.33 1124.69 2426.00 1124.30C2428.67 1123.91 2431.33 1123.53 2434.00 1123.14C2436.67 1122.76 2439.33 1122.37 2442.00 1121.99C2444.67 1121.61 2447.33 1121.23 2450.00 1120.85C2452.67 1120.46 2455.33 1120.09 2458.00 1119.71C2460.67 1119.33 2463.33 1118.95 2466.00 1118.57C2468.67 1118.20 2471.33 1117.82 2474.00 1117.45C2476.67 1117.08 2479.83 1116.64 2482.00 1116.33C2484.17 1116.03 2486.17 1115.76 2487.00 1115.64" stroke="#f00"/>
</g></svg>
<path d="M162.0 68.0H2487.0V925.0H162.0Z M162.0 964.0H2487.0V1223.0H162.0Z" stroke="#000" stroke-width="2" fill="none"/>
<path d="M155.0 68H162.0M2487.0 68H2494.0M158.0 95H162.0M2487.0 95H2491.0M158.0 121H162.0M2487.0 121H2491.0M158.0 148H162.0M2487.0 148H2491.0M158.0 174H162.0M2487.0 174H2491.0M155.0 200.0H162.0M2487.0 200.0H2494.0M158.0 227H162.0M2487.0 227H2491.0M158.0 253H162.0M2487.0 253H2491.0M158.0 279H162.0M2487.0 279H2491.0M158.0 306H162.0M2487.0 306H2491.0M155.0 332.0H162.0M2487.0 332.0H2494.0M158.0 358H162.0M2487.0 358H2491.0M158.0 385H162.0M2487.0 385H2491.0M158.0 411H162.0M2487.0 411H2491.0M158.0 438H162.0M2487.0 438H2491.0M155.0 464.0H162.0M2487.0 464.0H2494.0M158.0 490H162.0M2487.0 490H2491.0M158.0 517H162.0M2487.0 517H2491.0M158.0 543H162.0M2487.0 543H2491.0M158.0 569H162.0M2487.0 569H2491.0M155.0 595.0H162.0M2487.0 595.0H2494.0M158.0 622H162.0M2487.0 622H2491.0M158.0 648H162.0M2487.0 648H2491.0M158.0 675H162.0M2487.0 675H2491.0M158.0 701H162.0M2487.0 701H2491.0M155.0 727.0H162.0M2487.0 727.0H2494.0M158.0 754H162.0M2487.0 754H2491.0M158.0 780H162.0M2487.0 780H2491.0M158.0 807H162.0M2487.0 807H2491.0M158.0 833H162.0M2487.0 833H2491.0M155.0 859.0H162.0M2487.0 859.0H2494.0M158.0 886H162.0M2487.0 886H2491.0M158.0 912H162.0M2487.0 912H2491.0M162.0 925.0V932.0M162.0 1223.0V1230.0M207 925.0V929.0M207 1223.0V1227.0M251 925.0V929.0M251 1223.0V1227.0M296 925.0V929.0M296 1223.0V1227.0M340.0 925.0V932.0M340.0 1223.0V1230.0M385 925.0V929.0M385 1223.0V1227.0M430 925.0V929.0M430 1223.0V1227.0M475 925.0V929.0M475 1223.0V1227.0M519.0 925.0V932.0M519.0 1223.0V1230.0M564 925.0V929.0M564 1223.0V1227.0M609 925.0V929.0M609 1223.0V1227.0M654 925.0V929.0M654 1223.0V1227.0M698.0 925.0V932.0M698.0 1223.0V1230.0M743 925.0V929.0M743 1223.0V1227.0M788 925.0V929.0M788 1223.0V1227.0M833 925.0V929.0M833 1223.0V1227.0M877.0 925.0V932.0M877.0 1223.0V1230.0M922 925.0V929.0M922 1223.0V1227.0M967 925.0V929.0M967 1223.0V1227.0M1011 925.0V929.0M1011 1223.0V1227.0M1056.0 925.0V932.0M1056.0 1223.0V1230.0M1101 925.0V929.0M1101 1223.0V1227.0M1146 925.0V929.0M1146 1223.0V1227.0M1190 925.0V929.0M1190 1223.0V1227.0M1235.0 925.0V932.0M1235.0 1223.0V1230.0M1280 925.0V929.0M1280 1223.0V1227.0M1324 925.0V929.0M1324 1223.0V1227.0M1369 925.0V929.0M1369 1223.0V1227.0M1414.0 925.0V932.0M1414.0 1223.0V1230.0M1459 925.0V929.0M1459 1223.0V1227.0M1503 925.0V929.0M1503 1223.0V1227.0M1548 925.0V929.0M1548 1223.0V1227.0M1592.0 925.0V932.0M1592.0 1223.0V1230.0M1637 925.0V929.0M1637 1223.0V1227.0M1682 925.0V929.0M1682 1223.0V1227.0M1727 925.0V929.0M1727 1223.0V1227.0M1771.0 925.0V932.0M1771.0 1223.0V1230.0M1816 925.0V929.0M1816 1223.0V1227.0M1861 925.0V929.0M1861 1223.0V1227.0M1906 925.0V929.0M1906 1223.0V1227.0M1950.0 925.0V932.0M1950.0 1223.0V1230.0M1995 925.0V929.0M1995 1223.0V1227.0M2040 925.0V929.0M2040 1223.0V1227.0M2085 925.0V929.0M2085 1223.0V1227.0M2129.0 925.0V932.0M2129.0 1223.0V1230.0M2174 925.0V929.0M2174 1223.0V1227.0M2219 925.0V929.0M2219 1223.0V1227.0M2263 925.0V929.0M2263 1223.0V1227.0M2308.0 925.0V932.0M2308.0 1223.0V1230.0M2353 925.0V929.0M2353 1223.0V1227.0M2398 925.0V929.0M2398 1223.0V1227.0M2442 925.0V929.0M2442 1223.0V1227.0M2487.0 925.0V932.0M2487.0 1223.0V1230.0M155.0 1006H162.0M2487.0 1006H2494.0M155.0 1089H162.0M2487.0 1089H2494.0M155.0 1173H162.0M2487.0 1173H2494.0M155.0 1223.0H162.0M2487.0 1223.0H2494.0M158.0 978H162.0M2487.0 978H2491.0M158.0 1034H162.0M2487.0 1034H2491.0M158.0 1062H162.0M2487.0 1062H2491.0M158.0 1118H162.0M2487.0 1118H2491.0M158.0 1146H162.0M2487.0 1146H2491.0M158.0 1201H162.0M2487.0 1201H2491.0" stroke="#000" stroke-width="1.6" fill="none"/>
<text x="112.60" y="78.55" font-size="28.77" textLength="34.07" lengthAdjust="spacingAndGlyphs" fill="#000">16</text>
<text x="2501.50" y="78.55" font-size="28.77" textLength="34.07" lengthAdjust="spacingAndGlyphs" fill="#000">16</text>
<text x="112.59" y="210.36" font-size="28.77" textLength="34.33" lengthAdjust="spacingAndGlyphs" fill="#000">17</text>
<text x="2501.49" y="210.36" font-size="28.77" textLength="34.33" lengthAdjust="spacingAndGlyphs" fill="#000">17</text>
<text x="112.60" y="342.17" font-size="28.77" textLength="34.07" lengthAdjust="spacingAndGlyphs" fill="#000">18</text>
<text x="2501.50" y="342.17" font-size="28.77" textLength="34.07" lengthAdjust="spacingAndGlyphs" fill="#000">18</text>
<text x="112.60" y="473.98" font-size="28.77" textLength="34.16" lengthAdjust="spacingAndGlyphs" fill="#000">19</text>
<text x="2501.50" y="473.98" font-size="28.77" textLength="34.16" lengthAdjust="spacingAndGlyphs" fill="#000">19</text>
<text x="113.41" y="605.79" font-size="28.77" textLength="33.07" lengthAdjust="spacingAndGlyphs" fill="#000">20</text>
<text x="2502.31" y="605.79" font-size="28.77" textLength="33.07" lengthAdjust="spacingAndGlyphs" fill="#000">20</text>
<text x="113.40" y="737.60" font-size="28.77" textLength="33.40" lengthAdjust="spacingAndGlyphs" fill="#000">21</text>
<text x="2502.30" y="737.60" font-size="28.77" textLength="33.40" lengthAdjust="spacingAndGlyphs" fill="#000">21</text>
<text x="113.40" y="869.41" font-size="28.77" textLength="33.48" lengthAdjust="spacingAndGlyphs" fill="#000">22</text>
<text x="2502.30" y="869.41" font-size="28.77" textLength="33.48" lengthAdjust="spacingAndGlyphs" fill="#000">22</text>
<text x="123.34" y="1265.90" font-size="28.41" textLength="77.17" lengthAdjust="spacingAndGlyphs" fill="#000">18:00</text>
<text x="302.20" y="1265.90" font-size="28.41" textLength="77.17" lengthAdjust="spacingAndGlyphs" fill="#000">19:00</text>
<text x="481.84" y="1265.90" font-size="28.41" textLength="76.37" lengthAdjust="spacingAndGlyphs" fill="#000">20:00</text>
<text x="660.70" y="1265.90" font-size="28.41" textLength="76.37" lengthAdjust="spacingAndGlyphs" fill="#000">21:00</text>
<text x="839.56" y="1265.90" font-size="28.41" textLength="76.37" lengthAdjust="spacingAndGlyphs" fill="#000">22:00</text>
<text x="1018.42" y="1265.90" font-size="28.41" textLength="76.37" lengthAdjust="spacingAndGlyphs" fill="#000">23:00</text>
<text x="1197.59" y="1265.90" font-size="28.41" textLength="76.06" lengthAdjust="spacingAndGlyphs" fill="#000">00:00</text>
<text x="1376.45" y="1265.90" font-size="28.41" textLength="76.06" lengthAdjust="spacingAndGlyphs" fill="#000">01:00</text>
<text x="1555.31" y="1265.90" font-size="28.41" textLength="76.06" lengthAdjust="spacingAndGlyphs" fill="#000">02:00</text>
<text x="1734.17" y="1265.90" font-size="28.41" textLength="76.06" lengthAdjust="spacingAndGlyphs" fill="#000">03:00</text>
<text x="1913.03" y="1265.90" font-size="28.41" textLength="76.06" lengthAdjust="spacingAndGlyphs" fill="#000">04:00</text>
<text x="2091.89" y="1265.90" font-size="28.41" textLength="76.06" lengthAdjust="spacingAndGlyphs" fill="#000">05:00</text>
<text x="2270.75" y="1265.90" font-size="28.41" textLength="76.06" lengthAdjust="spacingAndGlyphs" fill="#000">06:00</text>
<text x="2449.61" y="1265.90" font-size="28.41" textLength="76.06" lengthAdjust="spacingAndGlyphs" fill="#000">07:00</text>
<text x="113.61" y="1016.50" font-size="28.70" textLength="33.07" lengthAdjust="spacingAndGlyphs" fill="#008000">60</text>
<text x="2502.31" y="1016.50" font-size="28.70" textLength="33.07" lengthAdjust="spacingAndGlyphs" fill="#f00">60</text>
<text x="114.00" y="1100.05" font-size="28.70" textLength="32.67" lengthAdjust="spacingAndGlyphs" fill="#008000">30</text>
<text x="2502.70" y="1100.05" font-size="28.70" textLength="32.67" lengthAdjust="spacingAndGlyphs" fill="#f00">30</text>
<text x="130.44" y="1183.60" font-size="28.70" textLength="16.19" lengthAdjust="spacingAndGlyphs" fill="#008000">0</text>
<text x="2502.64" y="1183.60" font-size="28.70" textLength="16.19" lengthAdjust="spacingAndGlyphs" fill="#f00">0</text>
<text x="92.29" y="1234.00" font-size="28.70" textLength="54.73" lengthAdjust="spacingAndGlyphs" fill="#008000">−18</text>
<text x="2503.11" y="1234.00" font-size="28.70" textLength="53.99" lengthAdjust="spacingAndGlyphs" fill="#f00">−18</text>
<text x="159.57" y="956.90" font-size="22.61" textLength="341.20" lengthAdjust="spacingAndGlyphs" fill="#000">Phase of the Moon: 23 % waxing</text>
<text x="1202.42" y="1312.70" font-size="28.41" textLength="242.11" lengthAdjust="spacingAndGlyphs" fill="#000">Time CET = UT+1</text>
<text x="2483.04" y="1311.90" font-size="23.04" textLength="143.44" lengthAdjust="spacingAndGlyphs" fill="#000">AllSkyView.de</text>
<text transform="rotate(-90)" x="-695.87" y="59.20" font-size="29.28" textLength="376.27" lengthAdjust="spacingAndGlyphs" fill="#000">Sky Brightness [mag/arcsec</text>
<text transform="rotate(-90)" x="-318.58" y="48.80" font-size="19.93" textLength="10.88" lengthAdjust="spacingAndGlyphs" fill="#000">2</text>
<text transform="rotate(-90)" x="-303.31" y="57.47" font-size="25.20" textLength="7.64" lengthAdjust="spacingAndGlyphs" fill="#000">]</text>
<text transform="rotate(90)" x="298.53" y="-2595.10" font-size="28.55" textLength="377.57" lengthAdjust="spacingAndGlyphs" fill="#000">Sky Brightness [mag/arcsec</text>
<text transform="rotate(90)" x="677.12" y="-2605.00" font-size="20.22" textLength="10.88" lengthAdjust="spacingAndGlyphs" fill="#000">2</text>
<text transform="rotate(90)" x="692.39" y="-2596.37" font-size="25.42" textLength="7.64" lengthAdjust="spacingAndGlyphs" fill="#000">]</text>
<text transform="translate(33.90,1189.18) rotate(-90)" x="0" y="0" font-size="28.70" textLength="189.28" lengthAdjust="spacingAndGlyphs" fill="#008000">Moon Altitude</text>
<text transform="translate(66.00,1162.96) rotate(-90)" x="0" y="0" font-size="28.99" textLength="129.82" lengthAdjust="spacingAndGlyphs" fill="#008000">[degrees]</text>
<text transform="translate(2612.10,1012.10) rotate(90)" x="0" y="0" font-size="28.62" textLength="166.13" lengthAdjust="spacingAndGlyphs" fill="#f00">Sun Altitude</text>
<text transform="translate(2585.00,1028.24) rotate(90)" x="0" y="0" font-size="28.99" textLength="129.82" lengthAdjust="spacingAndGlyphs" fill="#f00">[degrees]</text>
</svg>
</body></html>
